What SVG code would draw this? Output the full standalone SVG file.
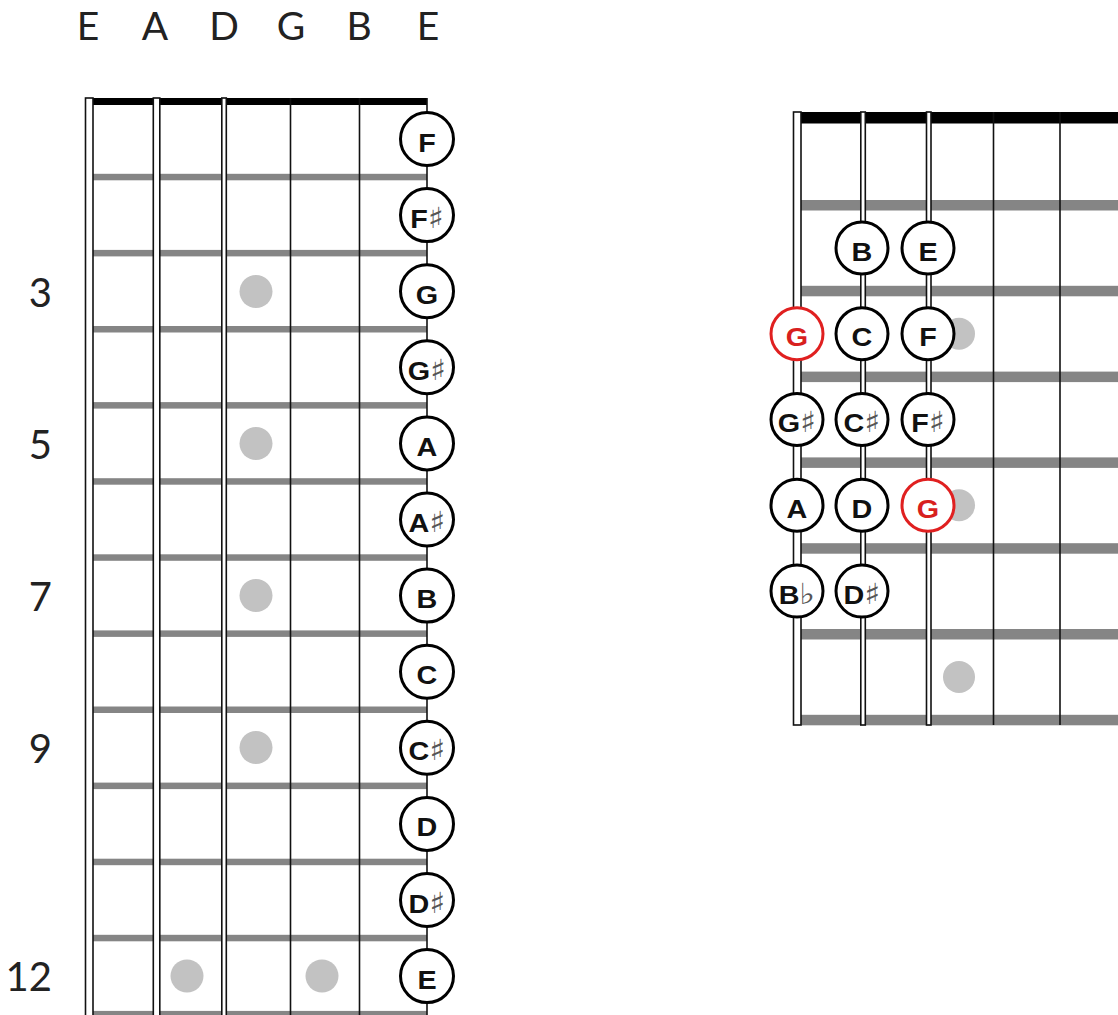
<svg xmlns="http://www.w3.org/2000/svg" width="1118" height="1015" viewBox="0 0 1118 1015">
<defs>
<style>
.bg{fill:#ffffff}
.hdr{font-family:Lato,"Open Sans","Liberation Sans",sans-serif;font-size:39px;fill:#222;text-anchor:middle}
.num{font-family:Lato,"Open Sans","Liberation Sans",sans-serif;font-size:40px;fill:#222;text-anchor:end}
.fret{fill:#858585}
.nut{fill:#000}
.sdbl{fill:#fff;stroke:#111;stroke-width:1.6}
.sline{stroke:#111;stroke-width:1.6;fill:none}
.dot{fill:#c2c2c2}
.nc{fill:#fff;stroke:#000;stroke-width:3}
.nc.red{stroke:#e02020}
.nl{font-family:"Liberation Sans",Arial,sans-serif;font-weight:bold;font-size:25px;fill:#111;text-anchor:middle}
.nl.red{fill:#d8201e}
.acc{font-family:"DejaVu Sans",sans-serif;font-weight:bold;font-size:29px;fill:#555}
</style>
</defs>
<rect class="bg" x="0" y="0" width="1118" height="1015"/>

<g id="header">
<text class="hdr" x="88" y="40">E</text>
<text class="hdr" x="155" y="40">A</text>
<text class="hdr" x="224" y="40">D</text>
<text class="hdr" x="291" y="40">G</text>
<text class="hdr" x="359" y="40">B</text>
<text class="hdr" x="428" y="40">E</text>
</g>

<g id="fret-numbers">
<text class="num" x="52" y="307">3</text>
<text class="num" x="52" y="459">5</text>
<text class="num" x="52" y="611">7</text>
<text class="num" x="52" y="763">9</text>
<text class="num" x="52" y="991">12</text>
</g>

<g id="left-board">
<rect class="nut" x="93" y="98" width="334" height="7"/>
<g id="left-frets">
<rect class="fret" x="93" y="173.8" width="334" height="6.5"/>
<rect class="fret" x="93" y="249.9" width="334" height="6.5"/>
<rect class="fret" x="93" y="326" width="334" height="6.5"/>
<rect class="fret" x="93" y="402.1" width="334" height="6.5"/>
<rect class="fret" x="93" y="478.2" width="334" height="6.5"/>
<rect class="fret" x="93" y="554.3" width="334" height="6.5"/>
<rect class="fret" x="93" y="630.4" width="334" height="6.5"/>
<rect class="fret" x="93" y="706.5" width="334" height="6.5"/>
<rect class="fret" x="93" y="782.6" width="334" height="6.5"/>
<rect class="fret" x="93" y="858.7" width="334" height="6.5"/>
<rect class="fret" x="93" y="934.8" width="334" height="6.5"/>
<rect class="fret" x="93" y="1010.9" width="334" height="6.5"/>
</g>
<g id="left-dots">
<circle class="dot" cx="256" cy="291.5" r="16.5"/>
<circle class="dot" cx="256" cy="443.5" r="16.5"/>
<circle class="dot" cx="256" cy="595.5" r="16.5"/>
<circle class="dot" cx="256" cy="747.5" r="16.5"/>
<circle class="dot" cx="187" cy="976" r="16.5"/>
<circle class="dot" cx="322" cy="976" r="16.5"/>
</g>
<g id="left-strings">
<rect class="sdbl" x="85.5" y="98" width="7.5" height="930"/>
<rect class="sdbl" x="153.3" y="98" width="6.5" height="930"/>
<rect class="sdbl" x="221.8" y="98" width="4.5" height="930"/>
<line class="sline" x1="290.5" y1="98" x2="290.5" y2="1015"/>
<line class="sline" x1="359.5" y1="98" x2="359.5" y2="1015"/>
<line class="sline" x1="427" y1="98" x2="427" y2="1015"/>
</g>
</g>

<g id="left-notes">
<g id="l-F" transform="translate(427,139)"><circle class="nc" r="26.5"/><text class="nl" y="12.5" transform="scale(1.15 1)">F</text></g>
<g id="l-Fs" transform="translate(427,215.1)"><circle class="nc" r="26.5"/><text class="nl" y="12.5" transform="scale(1.15 1)">F<tspan class="acc">♯</tspan></text></g>
<g id="l-G" transform="translate(427,291.2)"><circle class="nc" r="26.5"/><text class="nl" y="12.5" transform="scale(1.15 1)">G</text></g>
<g id="l-Gs" transform="translate(427,367.3)"><circle class="nc" r="26.5"/><text class="nl" y="12.5" transform="scale(1.15 1)">G<tspan class="acc">♯</tspan></text></g>
<g id="l-A" transform="translate(427,443.4)"><circle class="nc" r="26.5"/><text class="nl" y="12.5" transform="scale(1.15 1)">A</text></g>
<g id="l-As" transform="translate(427,519.5)"><circle class="nc" r="26.5"/><text class="nl" y="12.5" transform="scale(1.15 1)">A<tspan class="acc">♯</tspan></text></g>
<g id="l-B" transform="translate(427,595.6)"><circle class="nc" r="26.5"/><text class="nl" y="12.5" transform="scale(1.15 1)">B</text></g>
<g id="l-C" transform="translate(427,671.7)"><circle class="nc" r="26.5"/><text class="nl" y="12.5" transform="scale(1.15 1)">C</text></g>
<g id="l-Cs" transform="translate(427,747.8)"><circle class="nc" r="26.5"/><text class="nl" y="12.5" transform="scale(1.15 1)">C<tspan class="acc">♯</tspan></text></g>
<g id="l-D" transform="translate(427,823.9)"><circle class="nc" r="26.5"/><text class="nl" y="12.5" transform="scale(1.15 1)">D</text></g>
<g id="l-Ds" transform="translate(427,900)"><circle class="nc" r="26.5"/><text class="nl" y="12.5" transform="scale(1.15 1)">D<tspan class="acc">♯</tspan></text></g>
<g id="l-E" transform="translate(427,976.1)"><circle class="nc" r="26.5"/><text class="nl" y="12.5" transform="scale(1.15 1)">E</text></g>
</g>

<g id="right-board">
<rect class="nut" x="801" y="112" width="317" height="11.5"/>
<g id="right-frets">
<rect class="fret" x="801" y="200" width="317" height="10.5"/>
<rect class="fret" x="801" y="285.8" width="317" height="10.5"/>
<rect class="fret" x="801" y="371.6" width="317" height="10.5"/>
<rect class="fret" x="801" y="457.4" width="317" height="10.5"/>
<rect class="fret" x="801" y="543.2" width="317" height="10.5"/>
<rect class="fret" x="801" y="629" width="317" height="10.5"/>
<rect class="fret" x="801" y="714.8" width="317" height="10.5"/>
</g>
<g id="right-dots">
<circle class="dot" cx="959" cy="333.7" r="16"/>
<circle class="dot" cx="959" cy="505.3" r="16"/>
<circle class="dot" cx="959" cy="677" r="16"/>
</g>
<g id="right-strings">
<rect class="sdbl" x="793.5" y="112" width="7.5" height="613"/>
<rect class="sdbl" x="860.8" y="112" width="4.5" height="613"/>
<rect class="sdbl" x="926.5" y="112" width="4.5" height="613"/>
<line class="sline" x1="993.5" y1="112" x2="993.5" y2="725"/>
<line class="sline" x1="1060" y1="112" x2="1060" y2="725"/>
</g>
</g>

<g id="right-notes">
<g id="r-B" transform="translate(862,248)"><circle class="nc" r="26"/><text class="nl" y="12.5" transform="scale(1.15 1)">B</text></g>
<g id="r-E" transform="translate(928,248)"><circle class="nc" r="26"/><text class="nl" y="12.5" transform="scale(1.15 1)">E</text></g>
<g id="r-G1" transform="translate(797,333.7)"><circle class="nc red" r="26"/><text class="nl red" y="12.5" transform="scale(1.15 1)">G</text></g>
<g id="r-C" transform="translate(862,333.7)"><circle class="nc" r="26"/><text class="nl" y="12.5" transform="scale(1.15 1)">C</text></g>
<g id="r-F" transform="translate(928,333.7)"><circle class="nc" r="26"/><text class="nl" y="12.5" transform="scale(1.15 1)">F</text></g>
<g id="r-Gs" transform="translate(797,419.5)"><circle class="nc" r="26"/><text class="nl" y="12.5" transform="scale(1.15 1)">G<tspan class="acc">♯</tspan></text></g>
<g id="r-Cs" transform="translate(862,419.5)"><circle class="nc" r="26"/><text class="nl" y="12.5" transform="scale(1.15 1)">C<tspan class="acc">♯</tspan></text></g>
<g id="r-Fs" transform="translate(928,419.5)"><circle class="nc" r="26"/><text class="nl" y="12.5" transform="scale(1.15 1)">F<tspan class="acc">♯</tspan></text></g>
<g id="r-A" transform="translate(797,505.3)"><circle class="nc" r="26"/><text class="nl" y="12.5" transform="scale(1.15 1)">A</text></g>
<g id="r-D" transform="translate(862,505.3)"><circle class="nc" r="26"/><text class="nl" y="12.5" transform="scale(1.15 1)">D</text></g>
<g id="r-G2" transform="translate(928,505.3)"><circle class="nc red" r="26"/><text class="nl red" y="12.5" transform="scale(1.15 1)">G</text></g>
<g id="r-Bb" transform="translate(797,591.1)"><circle class="nc" r="26"/><text class="nl" y="12.5" transform="scale(1.15 1)">B<tspan class="acc">♭</tspan></text></g>
<g id="r-Ds" transform="translate(862,591.1)"><circle class="nc" r="26"/><text class="nl" y="12.5" transform="scale(1.15 1)">D<tspan class="acc">♯</tspan></text></g>
</g>
</svg>
